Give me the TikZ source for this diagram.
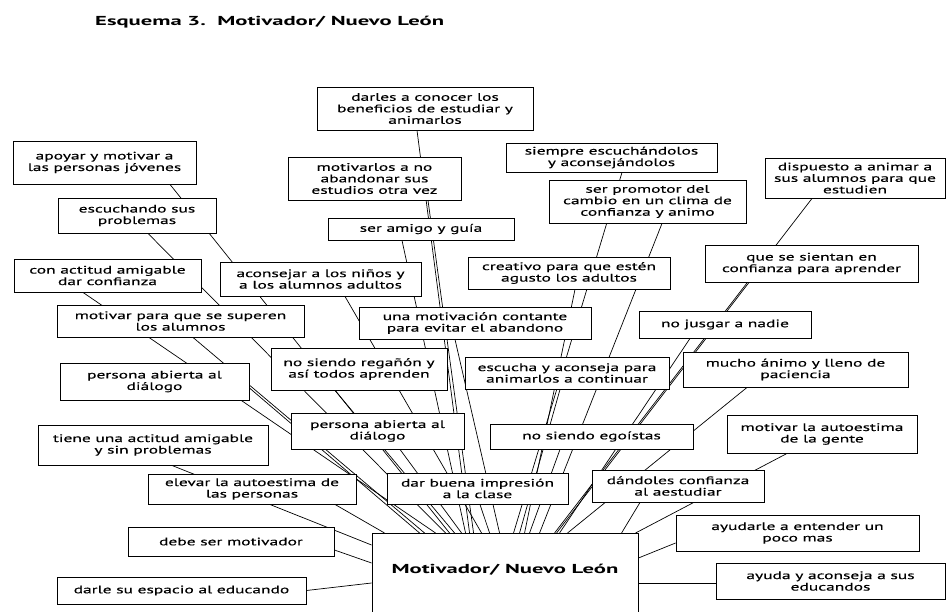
\documentclass[tikz,border=0pt]{standalone}
\usepackage{fontspec}
\setmainfont{PT Sans}[FakeStretch=1.6, FakeBold=0.35]
\newfontfamily\headfont{PT Sans Bold}[FakeStretch=1.74]
\usetikzlibrary{calc}
\pgfdeclarelayer{bg}
\pgfsetlayers{bg,main}
\tikzset{
  box/.style={draw=black, line width=0.9pt, fill=white, inner sep=0pt,
    align=center, font=\fontsize{10.9}{11.5}\selectfont},
  link/.style={draw=black, line width=0.7pt},
  heading/.style={font=\headfont\fontsize{13}{15}\selectfont, inner sep=0pt}
}
% box given by its corners (x1,y1) and (x2,y2)
\newcommand{\cornerbox}[6]{%
  \node[box, minimum width={#4-#2}, minimum height={#5-#3}] (#1)
    at ({(#2+#4)/2},{(#3+#5)/2}) {#6};}
\begin{document}
\begin{tikzpicture}[x=1pt,y=-1pt]
\useasboundingbox (0,0) rectangle (948,612);

\node[heading, anchor=base west] (title) at (95,26) {Esquema 3.\ \ Motivador/ Nuevo León};

% central node, running past the lower edge
\node[box, heading, minimum width=266, text height=40pt, text depth=75pt, inner ysep=0pt, anchor=north]
  (centro) at (505,533) {Motivador/ Nuevo León};

\cornerbox{darles}{317}{87}{533}{130}{darles a conocer los\\beneficios de estudiar y\\animarlos}
\cornerbox{apoyar}{13}{141}{196}{184}{apoyar y motivar a\\las personas jóvenes}
\cornerbox{motivarlos}{288}{157}{461}{200}{motivarlos a no\\abandonar sus\\estudios otra vez}
\cornerbox{siempre}{506}{143}{717}{172}{siempre escuchándolos\\y aconsejándolos}
\cornerbox{promotor}{549}{180}{746}{223}{ser promotor del\\cambio en un clima de\\confianza y animo}
\cornerbox{dispuesto}{765}{158}{945}{198}{dispuesto a animar a\\sus alumnos para que\\estudien}
\cornerbox{escuchando}{58}{198}{216}{233}{escuchando sus\\problemas}
\cornerbox{amigo}{328}{218}{514}{240}{ser amigo y guía}
\cornerbox{actitud}{14}{259}{201}{292}{con actitud amigable\\dar confianza}
\cornerbox{aconsejar}{220}{262}{421}{296}{aconsejar a los niños y\\a los alumnos adultos}
\cornerbox{creativo}{468}{257}{670}{289}{creativo para que estén\\agusto los adultos}
\cornerbox{sientan}{705}{245}{918}{282}{que se sientan en\\confianza para aprender}
\cornerbox{superen}{57}{305}{304}{337}{motivar para que se superen\\los alumnos}
\cornerbox{contante}{359}{307}{591}{339}{una motivación contante\\para evitar el abandono}
\cornerbox{jusgar}{639}{311}{811}{338}{no jusgar a nadie}
\cornerbox{reganon}{271}{348}{447}{390}{no siendo regañón y\\así todos aprenden}
\cornerbox{escucha}{465}{357}{669}{389}{escucha y aconseja para\\animarlos a continuar}
\cornerbox{mucho}{683}{352}{908}{387}{mucho ánimo y lleno de\\paciencia}
\cornerbox{personaL}{60}{363}{249}{400}{persona abierta al\\diálogo}
\cornerbox{personaC}{291}{413}{464}{449}{persona abierta al\\diálogo}
\cornerbox{tiene}{38}{425}{268}{465}{tiene una actitud amigable\\y sin problemas}
\cornerbox{egoistas}{490}{424}{693}{449}{no siendo egoístas}
\cornerbox{autoest}{727}{415}{917}{453}{motivar la autoestima\\de la gente}
\cornerbox{elevar}{148}{474}{356}{504}{elevar la autoestima de\\las personas}
\cornerbox{buena}{387}{473}{568}{504}{dar buena impresión\\a la clase}
\cornerbox{dandoles}{592}{470}{764}{502}{dándoles confianza\\al aestudiar}
\cornerbox{debe}{128}{527}{334}{556}{debe ser motivador}
\cornerbox{ayudarle}{676}{515}{919}{551}{ayudarle a entender un\\poco mas}
\cornerbox{darle}{57}{577}{306}{604}{darle su espacio al educando}
\cornerbox{ayuda}{716}{563}{945}{599}{ayuda y aconseja a sus\\educandos}

\begin{pgfonlayer}{bg}
  \fill[white] (0,0) rectangle (948,612);
  % spokes running into the top of the central box
  \draw[link] ([xshift=-8pt]darles.south) -- ([xshift=98pt]centro.north west);
  \draw[link] ([xshift=53.5pt]motivarlos.south) -- ([xshift=102pt]centro.north west);
  \draw[link] ([xshift=-19pt]amigo.south) -- ([xshift=94pt]centro.north west);
  \draw[link] ([xshift=65.5pt]apoyar.south) -- ([xshift=78pt]centro.north west);
  \draw[link] ([xshift=11pt]escuchando.south) -- ([xshift=74pt]centro.north west);
  \draw[link] ([xshift=-24.5pt]actitud.south) -- ([xshift=64pt]centro.north west);
  \draw[link] ([xshift=12.5pt]superen.south) -- ([xshift=53pt]centro.north west);
  \draw[link] ([xshift=24.5pt]aconsejar.south) -- ([xshift=110pt]centro.north west);
  \draw[link] ([yshift=-6.5pt]personaL.east) -- ([xshift=48pt]centro.north west);
  \draw[link] ([xshift=83pt]elevar.south) -- ([xshift=13pt]centro.north west);
  \draw[link] ([xshift=-24pt]reganon.south) -- ([xshift=83pt]centro.north west);
  \draw[link] ([xshift=22.5pt]personaC.south) -- ([xshift=90pt]centro.north west);
  \draw[link] ([xshift=2.5pt]buena.south) -- ([xshift=118pt]centro.north west);
  \draw[link] ([xshift=-20pt]contante.south) -- ([xshift=128pt]centro.north west);
  \draw[link] ([xshift=10.5pt]siempre.south) -- ([xshift=142pt]centro.north west);
  \draw[link] ([xshift=14.5pt]promotor.south) -- ([xshift=168pt]centro.north west);
  \draw[link] ([xshift=6pt]creativo.south) -- ([xshift=153pt]centro.north west);
  \draw[link] ([xshift=-7pt]escucha.south) -- ([xshift=148pt]centro.north west);
  \draw[link] ([xshift=-35pt]jusgar.south) -- ([xshift=188pt]centro.north west);
  \draw[link] ([xshift=-43pt]dispuesto.south) -- ([xshift=183pt]centro.north west);
  \draw[link] ([xshift=-62.5pt]sientan.south) -- ([xshift=185pt]centro.north west);
  \draw[link] ([xshift=-48.5pt]mucho.south) -- ([xshift=196pt]centro.north west);
  \draw[link] ([xshift=-31.5pt]egoistas.south) -- ([xshift=158pt]centro.north west);
  \draw[link] ([xshift=-35pt]autoest.south) -- ([xshift=264pt]centro.north west);
  \draw[link] ([xshift=-38pt]dandoles.south) -- ([xshift=250pt]centro.north west);
  % spokes running into the sides of the central box
  \draw[link] ([xshift=19pt]tiene.south) -- ([yshift=-12pt]centro.north west);
  \draw[link] ([yshift=-8.5pt]debe.east) -- ([yshift=-30pt]centro.north west);
  \draw[link] (darle.east) -- ([yshift=-50pt]centro.north west);
  \draw[link] ([yshift=-10pt]ayudarle.west) -- ([yshift=-25pt]centro.north east);
  \draw[link] ([yshift=-2pt]ayuda.west) -- ([yshift=-50pt]centro.north east);
\end{pgfonlayer}
\end{tikzpicture}
\end{document}
